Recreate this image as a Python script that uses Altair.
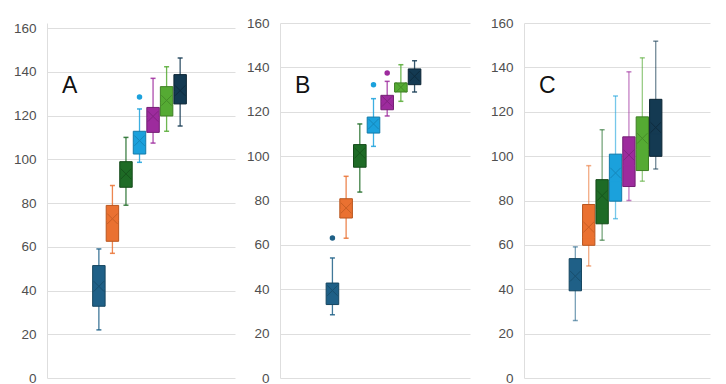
import altair as alt
import pandas as pd

series = ["S1", "S2", "S3", "S4", "S5", "S6", "S7"]
fills = ["#1f6087", "#ea7131", "#1e6b26", "#1ba1dc", "#9d2b9d", "#55aa33", "#143a52"]
darks = ["#164660", "#b8561f", "#144a19", "#137aa8", "#741f74", "#3e7f24", "#0c2534"]

A_lo = [22, 57, 79, 98.6, 107.4, 112.8, 115.2]
A_q1 = [32.8, 62.5, 87.2, 102.4, 112.3, 119.8, 125.3]
A_med = [41, 72, 92.5, 107.5, 119, 126, 131]
A_q3 = [51.4, 78.9, 98.9, 112.8, 123.7, 133.2, 138.7]
A_hi = [59, 88, 110, 123, 137, 142.3, 146.3]
A_mean = [41.9, 72.8, 93.3, 108.5, 119.6, 126.9, 131.4]
A_out_series = ["S4"]
A_out_vals = [128.5]

B_lo = [28.5, 63, 83.8, 104.4, 118.1, 124.7, 128.9]
B_q1 = [33.1, 72.1, 95, 110.4, 120.9, 128.9, 132.2]
B_med = [38.5, 76, 100.5, 114, 124.5, 131, 135.5]
B_q3 = [42.8, 80.8, 105.2, 117.6, 127.4, 133, 139.3]
B_hi = [54.1, 90.9, 114.5, 125.9, 133.7, 141.2, 143]
B_mean = [39.4, 76.6, 101.4, 114.5, 124.7, 131, 136]
B_out_series = ["S1", "S4", "S5"]
B_out_vals = [63.1, 132.2, 137.5]

C_lo = [25.9, 50.5, 62.1, 71.8, 80, 88.7, 94.2]
C_q1 = [39.3, 59.8, 69.5, 79.7, 86.3, 93.5, 99.9]
C_med = [44, 63.3, 76, 88.5, 95.7, 102.9, 109.9]
C_q3 = [53.8, 78.2, 89.4, 100.9, 108.7, 117.7, 125.6]
C_hi = [59.1, 95.7, 111.9, 127.1, 138, 144.3, 151.8]
C_mean = [45.9, 68, 82.2, 92.4, 100.5, 108, 112.9]
C_out_series = []
C_out_vals = []

y_ticks = [0, 20, 40, 60, 80, 100, 120, 140, 160]
X_PATH = "M-1,-1L1,1M1,-1L-1,1"


def panel(label, lo, q1, med, q3, hi, mean, out_s, out_v, width, ymax, whisk_op,
          extra_title=False):
    df = pd.DataFrame({
        "series": series, "pos": list(range(len(series))),
        "lo": lo, "q1": q1, "med": med, "q3": q3, "hi": hi, "mean": mean,
    })
    odf = pd.DataFrame({"series": out_s, "val": out_v})
    odf["pos"] = [series.index(s) for s in out_s]

    xs = alt.Scale(domain=[-3.83, 10.05], nice=False, zero=False)
    ys = alt.Scale(domain=[0, ymax], nice=False)
    fill_enc = alt.Fill("series:N", scale=alt.Scale(domain=series, range=fills), legend=None)
    col_enc = alt.Color("series:N", scale=alt.Scale(domain=series, range=fills), legend=None)
    dark_enc = alt.Stroke("series:N", scale=alt.Scale(domain=series, range=darks), legend=None)
    axis = alt.Axis(values=y_ticks, ticks=False, labelPadding=11, labelFontSize=13.5,
                    labelColor="#4f4f4f", labelFont="Liberation Sans", grid=True,
                    gridColor="#dedede", domainColor="#dedede",
                    title=("x" if extra_title else None),
                    titleColor="rgba(0,0,0,0)", titleFontSize=6, titlePadding=3)

    base = alt.Chart(df)
    whisk = base.mark_rule(strokeWidth=1.3, opacity=whisk_op).encode(
        x=alt.X("pos:Q", scale=xs, axis=None),
        y=alt.Y("lo:Q", scale=ys, axis=axis), y2="hi:Q", color=col_enc)
    cap_lo = base.mark_tick(orient="horizontal", size=5, thickness=1.5, opacity=whisk_op).encode(
        x=alt.X("pos:Q", scale=xs, axis=None), y=alt.Y("lo:Q", scale=ys), color=col_enc)
    cap_hi = base.mark_tick(orient="horizontal", size=5, thickness=1.5, opacity=whisk_op).encode(
        x=alt.X("pos:Q", scale=xs, axis=None), y=alt.Y("hi:Q", scale=ys), color=col_enc)
    box = base.transform_calculate(x0="datum.pos - 0.46", x1="datum.pos + 0.46").mark_bar(
        strokeWidth=1).encode(
        x=alt.X("x0:Q", scale=xs, axis=None), x2="x1:Q",
        y=alt.Y("q1:Q", scale=ys), y2="q3:Q", fill=fill_enc, stroke=dark_enc)
    medl = base.mark_tick(orient="horizontal", size=12, thickness=1, opacity=0.8).encode(
        x=alt.X("pos:Q", scale=xs, axis=None), y=alt.Y("med:Q", scale=ys), color=alt.Color(
            "series:N", scale=alt.Scale(domain=series, range=darks), legend=None))
    meanx = base.mark_point(shape=X_PATH, size=110, filled=False, strokeWidth=1,
                            opacity=0.65).encode(
        x=alt.X("pos:Q", scale=xs, axis=None), y=alt.Y("mean:Q", scale=ys), stroke=dark_enc)
    layers = [whisk, cap_lo, cap_hi, box, medl, meanx]
    if len(odf):
        outl = alt.Chart(odf).mark_circle(size=30, opacity=1).encode(
            x=alt.X("pos:Q", scale=xs, axis=None), y=alt.Y("val:Q", scale=ys), color=col_enc)
        layers.append(outl)
    txt = alt.Chart(pd.DataFrame({"t": [label]})).mark_text(
        fontSize=23, font="Liberation Sans", align="left", baseline="middle",
        color="#111111").encode(text="t:N", x=alt.value(15), y=alt.value(63))
    layers.append(txt)
    return alt.layer(*layers).properties(width=width, height=355)


pA = panel("A", A_lo, A_q1, A_med, A_q3, A_hi, A_mean, A_out_series, A_out_vals, 188, 162.3, 0.85)
pB = panel("B", B_lo, B_q1, B_med, B_q3, B_hi, B_mean, B_out_series, B_out_vals, 190, 160, 0.85)
pC = panel("C", C_lo, C_q1, C_med, C_q3, C_hi, C_mean, C_out_series, C_out_vals, 186, 160, 0.6,
           extra_title=True)

chart = alt.hconcat(pA, pB, pC, spacing=11).properties(
    padding={"left": 5, "top": 8, "right": 5, "bottom": 0}
).configure_view(stroke=None)

chart.save("out.html", embed_options={"renderer": "svg", "actions": False})
